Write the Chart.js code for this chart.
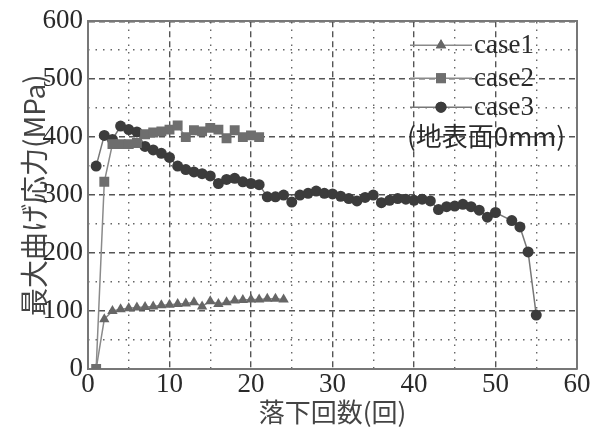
<!DOCTYPE html>
<html>
<head>
<meta charset="utf-8">
<script src="https://cdn.jsdelivr.net/npm/chart.js@4/dist/chart.umd.min.js"></script>
<style>
  html, body { margin: 0; padding: 0; background: #fff; }
  #wrap { width: 603px; height: 439px; }
</style>
</head>
<body>
<div id="wrap"><canvas id="c" width="603" height="439"></canvas></div>
<script>
// --- Data ---
const case1Drops = [1, 2, 3, 4, 5, 6, 7, 8, 9, 10, 11, 12, 13, 14, 15, 16, 17, 18, 19, 20, 21, 22, 23, 24];
const case1Stress = [0, 86, 100, 103, 105, 106, 107, 108, 110, 111, 112, 113, 115, 108, 117, 112, 115, 118, 119, 120, 120, 121, 121, 120];

const case2Drops = [1, 2, 3, 4, 5, 6, 7, 8, 9, 10, 11, 12, 13, 14, 15, 16, 17, 18, 19, 20, 21];
const case2Stress = [0, 323, 388, 388, 388, 390, 405, 408, 410, 413, 420, 400, 412, 410, 416, 413, 398, 412, 400, 403, 400];

const case3Drops = [1, 2, 3, 4, 5, 6, 7, 8, 9, 10, 11, 12, 13, 14, 15, 16, 17, 18, 19, 20,
    21, 22, 23, 24, 25, 26, 27, 28, 29, 30, 31, 32, 33, 34, 35, 36, 37, 38, 39, 40,
    41, 42, 43, 44, 45, 46, 47, 48, 49, 50, 52, 53, 54, 55];
const case3Stress = [350, 403, 396, 419, 413, 409, 384, 378, 372, 365, 350, 344, 340, 337, 333, 320, 327, 329, 323, 320,
    318, 297, 297, 300, 288, 300, 303, 307, 303, 302, 298, 294, 290, 296, 300, 287, 291, 294, 293, 291,
    293, 290, 275, 280, 281, 284, 280, 274, 262, 270, 256, 245, 202, 93];

const seriesNames = ['case1', 'case2', 'case3'];
const legendNote = '(地表面0mm)';
const xTitle = '落下回数(回)';
const yTitle = '最大曲げ応力(MPa)';

const serif = '"Liberation Serif", "Times New Roman", Times, "DejaVu Serif", serif';
const cjk = '"Noto Sans CJK JP", "Liberation Serif", sans-serif';

function pts(xs, ys) { return xs.map((x, i) => ({ x: x, y: ys[i] })); }

// --- Legend drawn inside the plot ---
const insideLegend = {
    id: 'insideLegend',
    afterDatasetsDraw(chart) {
        const ctx = chart.ctx, a = chart.chartArea;
        const x0 = a.right - 167, rows = [a.top + 24, a.top + 57, a.top + 86];
        ctx.save();
        chart.data.datasets.forEach((ds, i) => {
            const y = rows[i];
            ctx.strokeStyle = ds.borderColor; ctx.lineWidth = 1.5;
            ctx.beginPath(); ctx.moveTo(x0, y); ctx.lineTo(x0 + 62, y); ctx.stroke();
            ctx.fillStyle = ds.pointBackgroundColor;
            Chart.helpers.drawPoint(ctx, { pointStyle: ds.pointStyle, radius: ds.pointRadius, borderWidth: 0 }, x0 + 31, y);
            ctx.fill();
            ctx.fillStyle = '#2a2a2a';
            ctx.font = '27px ' + serif;
            ctx.textBaseline = 'middle';
            ctx.fillText(ds.label, x0 + 64, y + 1);
        });
        ctx.font = '26px ' + cjk;
        ctx.textBaseline = 'middle';
        ctx.fillText(legendNote, x0 - 3, a.top + 115);
        ctx.restore();
    }
};

const tickFont = { family: serif, size: 27 };

new Chart(document.getElementById('c'), {
    type: 'scatter',
    data: {
        datasets: [
            {
                label: seriesNames[0], data: pts(case1Drops, case1Stress), showLine: true,
                borderColor: '#8a8a8a', borderWidth: 1.5, pointStyle: 'triangle', pointRadius: 6,
                pointBackgroundColor: '#666', pointBorderWidth: 0, order: 3
            },
            {
                label: seriesNames[1], data: pts(case2Drops, case2Stress), showLine: true,
                borderColor: '#8a8a8a', borderWidth: 1.5, pointStyle: 'rect', pointRadius: 7,
                pointBackgroundColor: '#6e6e6e', pointBorderWidth: 0, order: 1
            },
            {
                label: seriesNames[2], data: pts(case3Drops, case3Stress), showLine: true,
                borderColor: '#777', borderWidth: 1.5, pointStyle: 'circle', pointRadius: 5.5,
                pointBackgroundColor: '#3c3c3c', pointBorderWidth: 0, order: 2
            }
        ]
    },
    options: {
        responsive: false,
        animation: false,
        layout: { padding: { top: 21, right: 26, left: 0, bottom: 0 } },
        plugins: { legend: { display: false }, tooltip: { enabled: false } },
        scales: {
            x: {
                type: 'linear', min: 0, max: 60,
                ticks: { stepSize: 10, color: '#2a2a2a', font: tickFont, padding: 0, maxRotation: 0 },
                grid: { color: '#555', lineWidth: 1.4, drawTicks: false },
                border: { color: '#777', width: 2, dash: [6, 4] },
                title: { display: true, text: xTitle, color: '#444', font: { family: cjk, size: 26 }, padding: { top: 0, bottom: 11 } },
                afterFit: s => { s.height = 70; }
            },
            x2: {
                type: 'linear', position: 'top', min: 0, max: 60,
                ticks: { stepSize: 5, display: false },
                grid: { color: c => (c.tick && c.tick.value % 10 === 0) ? 'rgba(0,0,0,0)' : '#666', lineWidth: 1.4, drawTicks: false },
                border: { color: '#777', width: 2, dash: [1.5, 6] },
                afterFit: s => { s.height = 0; }
            },
            y: {
                type: 'linear', min: 0, max: 600,
                ticks: { stepSize: 100, color: '#2a2a2a', font: tickFont, padding: 5 },
                grid: { color: '#555', lineWidth: 1.4, drawTicks: false },
                border: { color: '#777', width: 2, dash: [6, 4] },
                title: { display: true, text: yTitle, color: '#444', font: { family: cjk, size: 28 }, padding: { top: 18, bottom: 0 } },
                afterFit: s => { s.width = 88; }
            },
            y2: {
                type: 'linear', position: 'right', min: 0, max: 600,
                ticks: { stepSize: 50, display: false },
                grid: { color: c => (c.tick && c.tick.value % 100 === 0) ? 'rgba(0,0,0,0)' : '#666', lineWidth: 1.4, drawTicks: false },
                border: { color: '#777', width: 2, dash: [1.5, 6] },
                afterFit: s => { s.width = 0; }
            }
        }
    },
    plugins: [insideLegend]
});
</script>
</body>
</html>
